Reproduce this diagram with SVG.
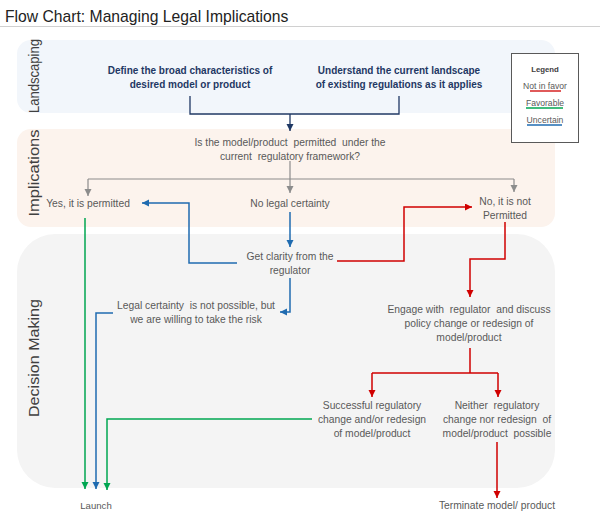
<svg xmlns="http://www.w3.org/2000/svg" width="600" height="531" viewBox="0 0 600 531">
<style>
text{font-family:"Liberation Sans",Arial,sans-serif;white-space:pre;}
.t{font-size:10.3px;fill:#595959;text-anchor:middle;}
.b{font-size:10px;font-weight:bold;fill:#1f3864;text-anchor:middle;}
.lane{font-size:15.5px;fill:#404040;text-anchor:middle;}
.lg{font-size:8.6px;fill:#595959;text-anchor:middle;}
.c{fill:none;stroke-width:1.5;}
.navy{stroke:#1f3864;stroke-width:1.3;}
.grey{stroke:#8c8c8c;stroke-width:1.2;}
.blue{stroke:#1f6bb0;}
.green{stroke:#00a651;}
.red{stroke:#d00000;}
</style>
<defs>
<marker id="aNavy" markerUnits="userSpaceOnUse" markerWidth="8" markerHeight="8" refX="7" refY="3.5" orient="auto"><path d="M0,0 L7,3.5 L0,7 z" fill="#1f3864"/></marker>
<marker id="aGrey" markerUnits="userSpaceOnUse" markerWidth="8" markerHeight="8" refX="7" refY="3.5" orient="auto"><path d="M0,0 L7,3.5 L0,7 z" fill="#8c8c8c"/></marker>
<marker id="aBlue" markerUnits="userSpaceOnUse" markerWidth="8" markerHeight="8" refX="7" refY="3.5" orient="auto"><path d="M0,0 L7,3.5 L0,7 z" fill="#1f6bb0"/></marker>
<marker id="aGreen" markerUnits="userSpaceOnUse" markerWidth="8" markerHeight="8" refX="7" refY="3.5" orient="auto"><path d="M0,0 L7,3.5 L0,7 z" fill="#00a651"/></marker>
<marker id="aRed" markerUnits="userSpaceOnUse" markerWidth="8" markerHeight="8" refX="7" refY="3.5" orient="auto"><path d="M0,0 L7,3.5 L0,7 z" fill="#d00000"/></marker>
</defs>
<rect width="600" height="531" fill="#ffffff"/>
<text x="5" y="22" style="font-size:15.7px;fill:#222;">Flow Chart: Managing Legal Implications</text>
<line x1="0" y1="26.5" x2="600" y2="26.5" stroke="#d0d0d0" stroke-width="1"/>

<g id="bands">
<rect x="17" y="40" width="538" height="73" rx="14" fill="#f2f6fb"/>
<rect x="17" y="129" width="538" height="98" rx="14" fill="#fcf3ed"/>
<rect x="17" y="234" width="538" height="254" rx="38" fill="#f4f4f4"/>
<text class="lane" transform="translate(39,76) rotate(-90)" textLength="74" lengthAdjust="spacingAndGlyphs">Landscaping</text>
<text class="lane" transform="translate(39,173) rotate(-90)" textLength="87" lengthAdjust="spacingAndGlyphs">Implications</text>
<text class="lane" transform="translate(39,358) rotate(-90)" textLength="118" lengthAdjust="spacingAndGlyphs">Decision Making</text>
</g>

<g id="legend">
<rect x="511.5" y="53.5" width="67" height="89" fill="#ffffff" stroke="#595959" stroke-width="1"/>
<text class="lg" x="545" y="72" style="fill:#404040;font-weight:bold;font-size:7.8px;">Legend</text>
<text class="lg" x="545" y="89">Not in favor</text>
<line x1="530" y1="91" x2="561" y2="91" stroke="#d00000" stroke-width="1.3"/>
<text class="lg" x="545" y="106">Favorable</text>
<line x1="526" y1="108" x2="563" y2="108" stroke="#00a651" stroke-width="1.3"/>
<text class="lg" x="545" y="123">Uncertain</text>
<line x1="527" y1="125" x2="562" y2="125" stroke="#1f6bb0" stroke-width="1.3"/>
</g>

<g id="connectors">
<path class="c navy" d="M190,96 V114 H399 V96"/>
<path class="c navy" d="M290,114 V131" marker-end="url(#aNavy)"/>
<path class="c grey" d="M290,161 V193" marker-end="url(#aGrey)"/>
<path class="c grey" d="M88,179 H514"/>
<path class="c grey" d="M88,179 V196" marker-end="url(#aGrey)"/>
<path class="c grey" d="M514,179 V192" marker-end="url(#aGrey)"/>
<path class="c blue" d="M290,212 V247" marker-end="url(#aBlue)"/>
<path class="c blue" d="M237,263 H189 V203 H142" marker-end="url(#aBlue)"/>
<path class="c blue" d="M290,278 V312 H280" marker-end="url(#aBlue)"/>
<path class="c blue" d="M113,313 H96 V489" marker-end="url(#aBlue)"/>
<path class="c green" d="M85,218 V489" marker-end="url(#aGreen)"/>
<path class="c green" d="M312,419 H107 V490" marker-end="url(#aGreen)"/>
<path class="c red" d="M337,261 H404 V207 H472" marker-end="url(#aRed)"/>
<path class="c red" d="M505,222 V259 H470 V297" marker-end="url(#aRed)"/>
<path class="c red" d="M470,348 V373 M372,373 H498"/>
<path class="c red" d="M372,373 V397" marker-end="url(#aRed)"/>
<path class="c red" d="M498,373 V397" marker-end="url(#aRed)"/>
<path class="c red" d="M497,442 V498" marker-end="url(#aRed)"/>
</g>

<g id="n-define"><text class="b" x="190" y="74">Define the broad characteristics of</text><text class="b" x="190" y="88">desired model or product</text></g>
<g id="n-understand"><text class="b" x="399" y="74">Understand the current landscape</text><text class="b" x="399" y="88">of existing regulations as it applies</text></g>
<g id="n-question"><text class="t" x="290" y="146">Is the model/product  permitted  under the</text><text class="t" x="290" y="160">current  regulatory framework?</text></g>
<g id="n-yes"><text class="t" x="88" y="207">Yes, it is permitted</text></g>
<g id="n-nocert"><text class="t" x="290" y="207">No legal certainty</text></g>
<g id="n-no"><text class="t" x="505" y="205">No, it is not</text><text class="t" x="505" y="219">Permitted</text></g>
<g id="n-clarity"><text class="t" x="290" y="260">Get clarity from the</text><text class="t" x="290" y="274">regulator</text></g>
<g id="n-risk"><text class="t" x="196" y="309">Legal certainty  is not possible, but</text><text class="t" x="196" y="323">we are willing to take the risk</text></g>
<g id="n-engage"><text class="t" x="469" y="313">Engage with  regulator  and discuss</text><text class="t" x="469" y="327">policy change or redesign of</text><text class="t" x="469" y="341">model/product</text></g>
<g id="n-success"><text class="t" x="372" y="409">Successful regulatory</text><text class="t" x="372" y="423">change and/or redesign</text><text class="t" x="372" y="437">of model/product</text></g>
<g id="n-neither"><text class="t" x="497" y="409">Neither  regulatory</text><text class="t" x="497" y="423">change nor redesign  of</text><text class="t" x="497" y="437">model/product  possible</text></g>
<g id="n-launch"><text class="t" x="96" y="509" style="font-size:9.6px;">Launch</text></g>
<g id="n-terminate"><text class="t" x="497" y="509">Terminate model/ product</text></g>
</svg>
